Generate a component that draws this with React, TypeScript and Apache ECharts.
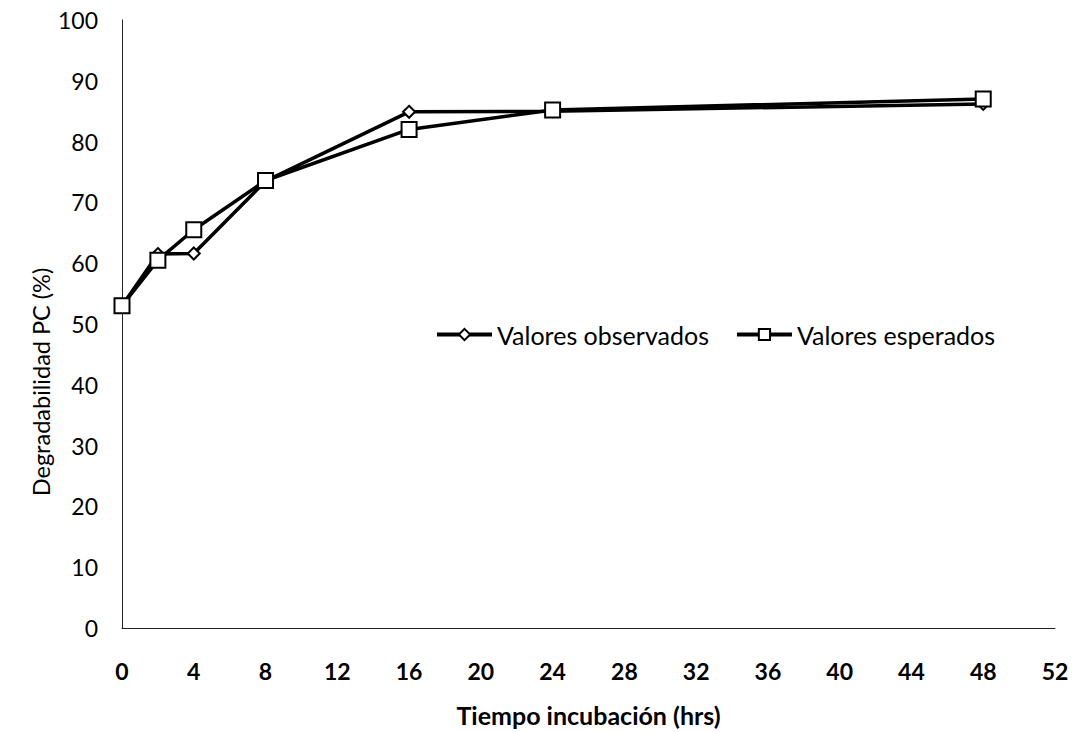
import React, { useEffect, useRef } from "react";
import * as echarts from "echarts";

const hours = [0, 2, 4, 8, 16, 24, 48];
const observed = [53.0, 61.5, 61.6, 73.5, 84.9, 85.0, 86.2];
const expected = [53.0, 60.5, 65.5, 73.6, 82.0, 85.2, 87.0];
const seriesNames = ["Valores observados", "Valores esperados"];
const xTitle = "Tiempo incubación (hrs)";
const yTitle = "Degradabilidad PC (%)";

export default function App() {
  const ref = useRef<HTMLDivElement>(null);
  useEffect(() => {
    if (!ref.current) return;
    const chart = echarts.init(ref.current, undefined, { renderer: "svg" });
    const font = "Lato, 'Open Sans', sans-serif";
    chart.setOption({
      animation: false,
      backgroundColor: "#fff",
      textStyle: { fontFamily: font },
      grid: { left: 122, right: 23, top: 20, bottom: 103 },
      legend: {
        left: 430,
        top: 317,
        itemWidth: 55,
        itemHeight: 14,
        itemGap: 26,
        lineStyle: { width: 4, color: "#000" },
        textStyle: { fontSize: 25, color: "#000", fontFamily: font },
        data: seriesNames,
      },
      graphic: [
        {
          type: "text",
          x: 41,
          y: 382,
          rotation: Math.PI / 2,
          style: {
            text: yTitle,
            fontSize: 23.5,
            fontFamily: font,
            fill: "#000",
            textAlign: "center",
            textVerticalAlign: "middle",
          },
        },
      ],
      xAxis: {
        type: "value",
        min: 0,
        max: 52,
        interval: 4,
        name: xTitle,
        nameLocation: "middle",
        nameGap: 74,
        nameTextStyle: { fontSize: 25, fontWeight: "bold", color: "#000", fontFamily: font },
        axisLine: { lineStyle: { color: "#222", width: 1 } },
        axisTick: { show: false },
        splitLine: { show: false },
        axisLabel: { fontSize: 23, fontWeight: "bold", color: "#000", margin: 31, fontFamily: font },
      },
      yAxis: {
        type: "value",
        min: 0,
        max: 100,
        interval: 10,
        axisLine: { show: true, lineStyle: { color: "#222", width: 1 } },
        axisTick: { show: false },
        splitLine: { show: false },
        axisLabel: { fontSize: 23, color: "#000", margin: 24, fontFamily: font },
      },
      series: [
        {
          name: seriesNames[0],
          type: "line",
          data: hours.map((h, i) => [h, observed[i]]),
          symbol: "diamond",
          symbolSize: 12,
          lineStyle: { color: "#000", width: 3.5 },
          itemStyle: { color: "#fff", borderColor: "#000", borderWidth: 2 },
          z: 2,
        },
        {
          name: seriesNames[1],
          type: "line",
          data: hours.map((h, i) => [h, expected[i]]),
          symbol: "rect",
          symbolSize: 15,
          lineStyle: { color: "#000", width: 3.5 },
          itemStyle: { color: "#fff", borderColor: "#000", borderWidth: 2 },
          z: 3,
        },
      ],
    });
    return () => chart.dispose();
  }, []);
  return (
    <div
      ref={ref}
      style={{ position: "absolute", left: 0, top: 0, width: 1078, height: 732 }}
    />
  );
}
